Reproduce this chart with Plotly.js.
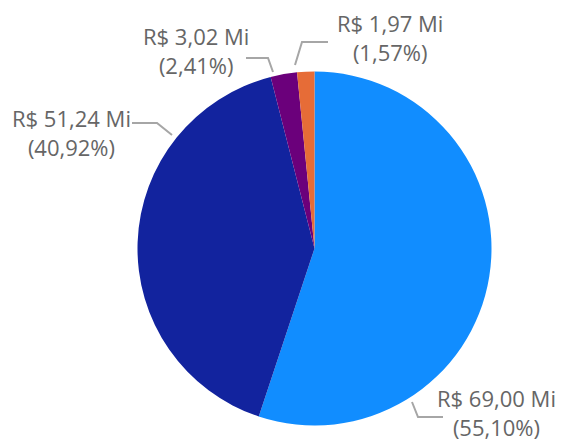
<!DOCTYPE html>
<html>
<head>
<meta charset="utf-8">
<script src="https://cdn.plot.ly/plotly-3.0.1.min.js"></script>
<style>html,body{margin:0;padding:0;background:#fff;}#chart{width:565px;height:440px;}</style>
</head>
<body>
<div id="chart"></div>
<script>
// ---- data ----
const categories = ["Categoria A", "Categoria B", "Categoria C", "Categoria D"];
const valuesMi = [69.00, 51.24, 3.02, 1.97];
const colors = ["#118DFF", "#12239E", "#6B007B", "#E66C37"];

// ---- layout helpers (pixel positions for labels & leader lines) ----
const W = 565, H = 440;
const labelCenters = [[496, 412], [71, 132], [196, 50], [390, 37]];
const leaderPaths = [
  [[412, 402], [418, 417], [443, 417]],
  [[132, 123], [157, 123], [172, 135]],
  [[246, 58], [268, 58], [273, 72]],
  [[295, 65], [302, 42], [328, 42]]
];
const px = x => x / W, py = y => 1 - y / H;

const total = valuesMi.reduce((a, b) => a + b, 0);
const fmt = v => v.toFixed(2).replace('.', ',');
const labelTexts = valuesMi.map(v => 'R$ ' + fmt(v) + ' Mi<br>(' + fmt(v / total * 100) + '%)');

const trace = {
  type: 'pie',
  labels: categories,
  values: valuesMi,
  sort: false,
  direction: 'clockwise',
  rotation: 0,
  marker: { colors: colors, line: { width: 0 } },
  textinfo: 'none',
  hoverinfo: 'skip',
  showlegend: false,
  domain: { x: [137.5 / W, 491.5 / W], y: [14.5 / H, 368.5 / H] }
};

const annotations = labelTexts.map((t, i) => ({
  xref: 'paper', yref: 'paper',
  x: px(labelCenters[i][0]), y: py(labelCenters[i][1]),
  xanchor: 'center', yanchor: 'middle',
  text: t, showarrow: false, align: 'center',
  font: { family: 'Open Sans, sans-serif', size: 22, color: '#666666' }
}));

const shapes = leaderPaths.map(p => ({
  type: 'path', xref: 'paper', yref: 'paper',
  path: 'M' + p.map(q => px(q[0]) + ',' + py(q[1])).join(' L'),
  line: { color: '#A6A6A6', width: 2 }
}));

const layout = {
  width: W, height: H,
  margin: { l: 0, r: 0, t: 0, b: 0 },
  paper_bgcolor: '#ffffff',
  plot_bgcolor: '#ffffff',
  showlegend: false,
  annotations: annotations,
  shapes: shapes
};

Plotly.newPlot('chart', [trace], layout, { displayModeBar: false, staticPlot: true });
</script>
</body>
</html>
